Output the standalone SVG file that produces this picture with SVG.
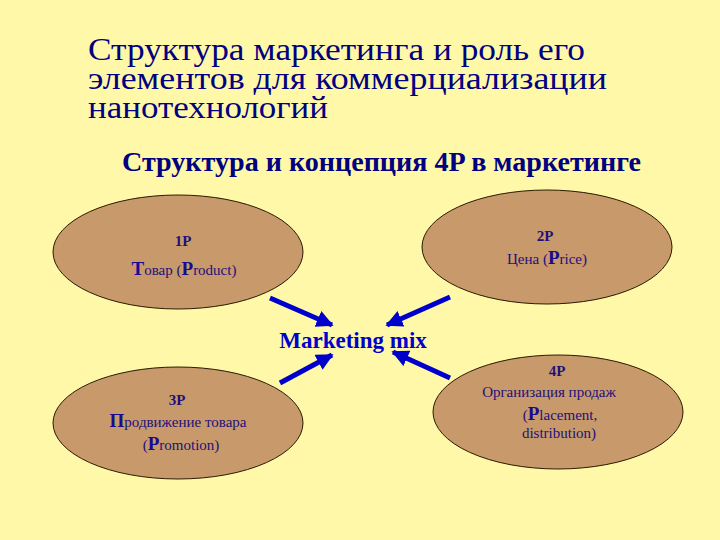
<svg xmlns="http://www.w3.org/2000/svg" width="720" height="540" viewBox="0 0 720 540">
<defs>
<style>
.t{font-family:"Liberation Serif","DejaVu Serif Condensed","DejaVu Serif",serif;fill:#000080}
.n{font-family:"Liberation Serif","DejaVu Serif Condensed","DejaVu Serif",serif;fill:#22107a;font-size:15px;text-anchor:middle}
.b{font-weight:bold}
.big{font-size:19px;font-weight:bold;fill:#1a0a90}
.el{fill:#C8996A;stroke:#2a1a00;stroke-width:1}
.ar{stroke:#0000CC;stroke-width:5;fill:none;marker-end:url(#ah)}
</style>
<marker id="ah" viewBox="0 0 10 10" refX="9" refY="5" markerWidth="3.4" markerHeight="3.4" orient="auto" markerUnits="strokeWidth">
<path d="M0,0 L10,5 L0,10 z" fill="#0000CC"/>
</marker>
</defs>
<rect width="720" height="540" fill="#FFF8A8"/>
<g id="title">
<text class="t" x="88" y="60" font-size="32" textLength="497" lengthAdjust="spacingAndGlyphs">Структура маркетинга и роль его</text>
<text class="t" x="88" y="89" font-size="32" textLength="519" lengthAdjust="spacingAndGlyphs">элементов для коммерциализации</text>
<text class="t" x="88" y="118" font-size="32" textLength="240" lengthAdjust="spacingAndGlyphs">нанотехнологий</text>
</g>
<g id="subtitle">
<text class="t b" x="122" y="171" font-size="27" textLength="519" lengthAdjust="spacingAndGlyphs">Структура и концепция 4P в маркетинге</text>
</g>
<g id="node1">
<ellipse class="el" cx="178" cy="252" rx="125" ry="57"/>
<text class="n b" x="183" y="246" font-size="13">1P</text>
<text class="n" x="184" y="275"><tspan class="big" font-size="17">Т</tspan>овар (<tspan class="big">P</tspan>roduct)</text>
</g>
<g id="node2">
<ellipse class="el" cx="547" cy="247" rx="125" ry="57"/>
<text class="n b" x="545" y="241" font-size="13">2P</text>
<text class="n" x="547" y="264">Цена (<tspan class="big">P</tspan>rice)</text>
</g>
<g id="node3">
<ellipse class="el" cx="178" cy="423" rx="125" ry="56"/>
<text class="n b" x="177" y="405" font-size="13">3P</text>
<text class="n" x="178" y="427"><tspan class="big" font-size="17">П</tspan>родвижение товара</text>
<text class="n" x="181" y="450">(<tspan class="big">P</tspan>romotion)</text>
</g>
<g id="node4">
<ellipse class="el" cx="558" cy="412" rx="125" ry="57"/>
<text class="n b" x="557" y="376" font-size="13">4P</text>
<text class="n" x="549" y="397" font-size="14"><tspan font-size="15">О</tspan>рганизация продаж</text>
<text class="n" x="560" y="420">(<tspan class="big">P</tspan>lacement,</text>
<text class="n" x="559" y="438" font-size="14">distribution)</text>
</g>
<g id="center">
<text class="t b" x="353" y="348" font-size="23" text-anchor="middle" style="fill:#0000CC">Marketing mix</text>
</g>
<g id="connectors">
<line class="ar" x1="270" y1="298" x2="332" y2="325"/>
<line class="ar" x1="450" y1="297" x2="387" y2="325"/>
<line class="ar" x1="280" y1="383" x2="332" y2="355"/>
<line class="ar" x1="450" y1="378" x2="393" y2="352"/>
</g>
</svg>
